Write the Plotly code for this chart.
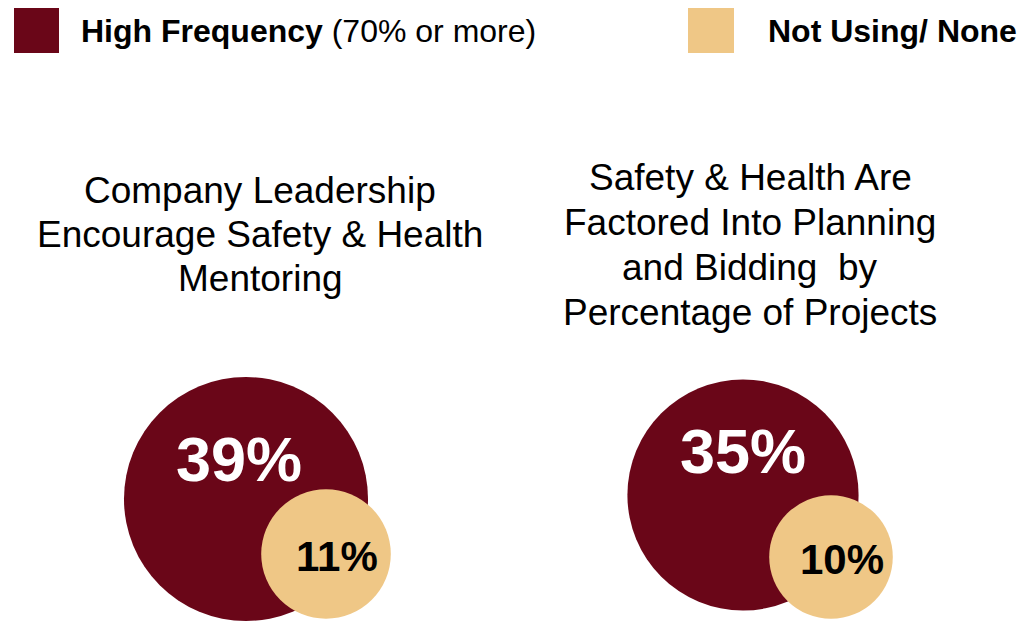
import plotly.graph_objects as go

# ---------------- data ----------------
series_names = ["High Frequency", "Not Using/ None"]
legend_suffix = [" (70% or more)", ""]
group_titles = [
    ["Company Leadership", "Encourage Safety & Health", "Mentoring"],
    ["Safety & Health Are", "Factored Into Planning", "and Bidding  by", "Percentage of Projects"],
]
high_frequency = [39, 35]
not_using = [11, 10]

# ---------------- layout / style ----------------
W, H = 1031, 621
OFF = 8  # page body margin, so axis units equal page pixels
MAROON = "#6A0618"
TAN = "#EFC786"
FONT = "Arial, Liberation Sans, sans-serif"

big_centers = [(246, 499), (743, 495)]
small_centers = [(326, 554), (831, 557)]
big_label_pos = [(239, 459), (743, 451)]
small_label_pos = [(337, 556), (842, 559)]
title_center_x = [260, 750]
title_first_y = [190, 177]
title_line_gap = [44, 45]
SIZEREF = 2 / 1527.0  # area sizing

fig = go.Figure()

fig.add_trace(go.Scatter(
    x=[c[0] for c in big_centers], y=[c[1] for c in big_centers],
    mode="markers", name=series_names[0], showlegend=False,
    marker=dict(size=high_frequency, sizemode="area", sizeref=SIZEREF,
                color=MAROON, line=dict(width=0), opacity=1),
    hoverinfo="skip",
))
fig.add_trace(go.Scatter(
    x=[c[0] for c in small_centers], y=[c[1] for c in small_centers],
    mode="markers", name=series_names[1], showlegend=False,
    marker=dict(size=not_using, sizemode="area", sizeref=SIZEREF,
                color=TAN, line=dict(width=0), opacity=1),
    hoverinfo="skip",
))

annotations = []
for (x, y), v in zip(big_label_pos, high_frequency):
    annotations.append(dict(x=x, y=y, text=f"<b>{v}%</b>", showarrow=False,
                            xanchor="center", yanchor="middle",
                            font=dict(family=FONT, size=63, color="white")))
for (x, y), v in zip(small_label_pos, not_using):
    annotations.append(dict(x=x, y=y, text=f"<b>{v}%</b>", showarrow=False,
                            xanchor="center", yanchor="middle",
                            font=dict(family=FONT, size=42, color="black")))
for gx, gy, gap, lines in zip(title_center_x, title_first_y, title_line_gap, group_titles):
    for i, line in enumerate(lines):
        annotations.append(dict(x=gx, y=gy + i * gap, text=line, showarrow=False,
                                xanchor="center", yanchor="middle",
                                font=dict(family=FONT, size=37, color="black")))

# legend (custom, large squares)
legend_boxes = [(14, 7, 59, 53), (688, 7, 734, 53)]
legend_text_x = [79, 766]
legend_colors = [MAROON, TAN]
shapes = []
for (x0, y0, x1, y1), col in zip(legend_boxes, legend_colors):
    shapes.append(dict(type="rect", x0=x0, x1=x1, y0=y0, y1=y1, xref="x", yref="y",
                       fillcolor=col, line=dict(width=0), layer="above"))
for tx, name, suf in zip(legend_text_x, series_names, legend_suffix):
    annotations.append(dict(x=tx, y=31, text=f"<b>{name}</b>{suf}", showarrow=False,
                            xanchor="left", yanchor="middle",
                            font=dict(family=FONT, size=32, color="black")))

fig.update_layout(
    width=W, height=H,
    margin=dict(l=0, r=0, t=0, b=0),
    paper_bgcolor="white", plot_bgcolor="white",
    xaxis=dict(range=[OFF, W + OFF], visible=False, fixedrange=True),
    yaxis=dict(range=[H + OFF, OFF], visible=False, fixedrange=True),
    annotations=annotations, shapes=shapes,
    showlegend=False,
)

fig.write_html("out.html")
